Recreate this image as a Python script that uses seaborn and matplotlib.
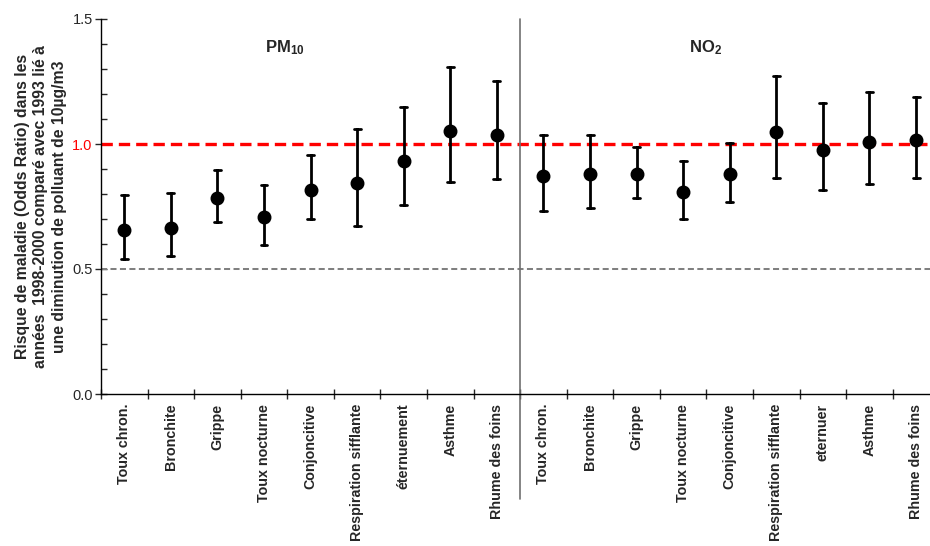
import matplotlib
matplotlib.use("Agg")
import matplotlib.pyplot as plt
import matplotlib.transforms as mtransforms
import numpy as np
import pandas as pd
import seaborn as sns

# ─── Data (odds ratios with 95% CI) ──────────────────────────────────────
pm10_labels = ["Toux chron.", "Bronchite", "Grippe", "Toux nocturne", "Conjoncitive",
               "Respiration sifflante", "éternuement", "Asthme", "Rhume des foins"]
pm10_or = [0.656, 0.665, 0.783, 0.707, 0.816, 0.844, 0.931, 1.052, 1.036]
pm10_lo = [0.540, 0.553, 0.687, 0.597, 0.699, 0.673, 0.757, 0.847, 0.860]
pm10_hi = [0.796, 0.805, 0.895, 0.836, 0.955, 1.059, 1.148, 1.308, 1.253]

no2_labels = ["Toux chron.", "Bronchite", "Grippe", "Toux nocturne", "Conjoncitive",
              "Respiration sifflante", "eternuer", "Asthme", "Rhume des foins"]
no2_or = [0.871, 0.879, 0.881, 0.807, 0.879, 1.049, 0.976, 1.008, 1.015]
no2_lo = [0.733, 0.744, 0.785, 0.699, 0.769, 0.863, 0.816, 0.841, 0.865]
no2_hi = [1.035, 1.036, 0.987, 0.932, 1.005, 1.273, 1.164, 1.209, 1.187]

ylabel = ("Risque de maladie (Odds Ratio) dans les\n"
          "années  1998-2000 comparé avec 1993 lié à\n"
          "une diminution de polluant de 10µg/m3")

# ─── Long-form frame: lo / OR / hi per category, median = OR ─────────────
labels = pm10_labels + no2_labels
keys = [f"PM10|{l}" for l in pm10_labels] + [f"NO2|{l}" for l in no2_labels]
rows = []
for k, lo, est, hi in zip(keys, pm10_lo + no2_lo, pm10_or + no2_or, pm10_hi + no2_hi):
    for v in (lo, est, hi):
        rows.append({"key": k, "value": v})
df = pd.DataFrame(rows)

sns.set_theme(style="white")
plt.rcParams["font.family"] = ["Liberation Sans", "DejaVu Sans"]
plt.rcParams["mathtext.fontset"] = "custom"
plt.rcParams["mathtext.bf"] = "Liberation Sans:bold"
plt.rcParams["mathtext.rm"] = "Liberation Sans"

fig = plt.figure(figsize=(9.3, 5.46), dpi=100)
ax = fig.add_axes([101 / 930, 152 / 546, 829 / 930, 375 / 546])

sns.pointplot(
    data=df, x="key", y="value", order=keys, ax=ax,
    estimator="median", errorbar=lambda v: (v.min(), v.max()),
    linestyle="none", color="black", markersize=8, capsize=0.15,
    err_kws={"linewidth": 2.0},
)

# reference lines
ax.axhline(1.0, color="#ff0000", lw=2.4, dashes=(3.4, 1.8), zorder=1)
ax.axhline(0.5, color="#808080", lw=1.45, dashes=(3.0, 1.7), zorder=1)
# divider between pollutants, running down into the label area
ax.axvline(8.5, ymin=-0.28, ymax=1.0, color="#707070", lw=1.2, clip_on=False, zorder=1)

# y axis
ax.set_yticks([0.0, 0.5, 1.0, 1.5])
ax.set_yticklabels(["0.0", "0.5", "1.0", "1.5"], fontsize=10.5)
ax.get_yticklabels()[2].set_color("#ff0000")
ax.set_yticks(np.arange(0, 1.51, 0.1), minor=True)
ax.tick_params(axis="y", which="major", direction="inout", length=8, width=1, left=True, pad=2)
ax.tick_params(axis="y", which="minor", direction="in", length=4, width=1, left=True)

# x axis: labels at centers, tick marks at edges
ax.set_xticks(range(len(keys)))
ax.set_xticklabels(labels, rotation=90, fontsize=10.3, fontweight="bold", va="top")
shift = mtransforms.ScaledTranslation(0.04, 0, fig.dpi_scale_trans)
for t in ax.get_xticklabels():
    t.set_transform(t.get_transform() + shift)
ax.set_xticks(np.arange(-0.5, 17.6, 1.0), minor=True)
ax.tick_params(axis="x", which="major", length=0, pad=7)
ax.tick_params(axis="x", which="minor", direction="inout", length=7, width=1, bottom=True)
ax.set_xlabel("")
ax.set_ylabel(ylabel, fontsize=11.3, fontweight="bold", labelpad=4, linespacing=1.28)

# limits last: set_xticks would otherwise widen the view
ax.set_xlim(-0.5, 17.3)
ax.set_ylim(0, 1.5)

for side in ("top", "right"):
    ax.spines[side].set_visible(False)
for side in ("left", "bottom"):
    ax.spines[side].set_color("black")
    ax.spines[side].set_linewidth(1.0)

# pollutant headers
ax.text(3.45, 1.385, r"$\mathbf{PM_{10}}$", ha="center", va="center", fontsize=12)
ax.text(12.47, 1.385, r"$\mathbf{NO_{2}}$", ha="center", va="center", fontsize=12)

fig.savefig("out.png", dpi=100)
